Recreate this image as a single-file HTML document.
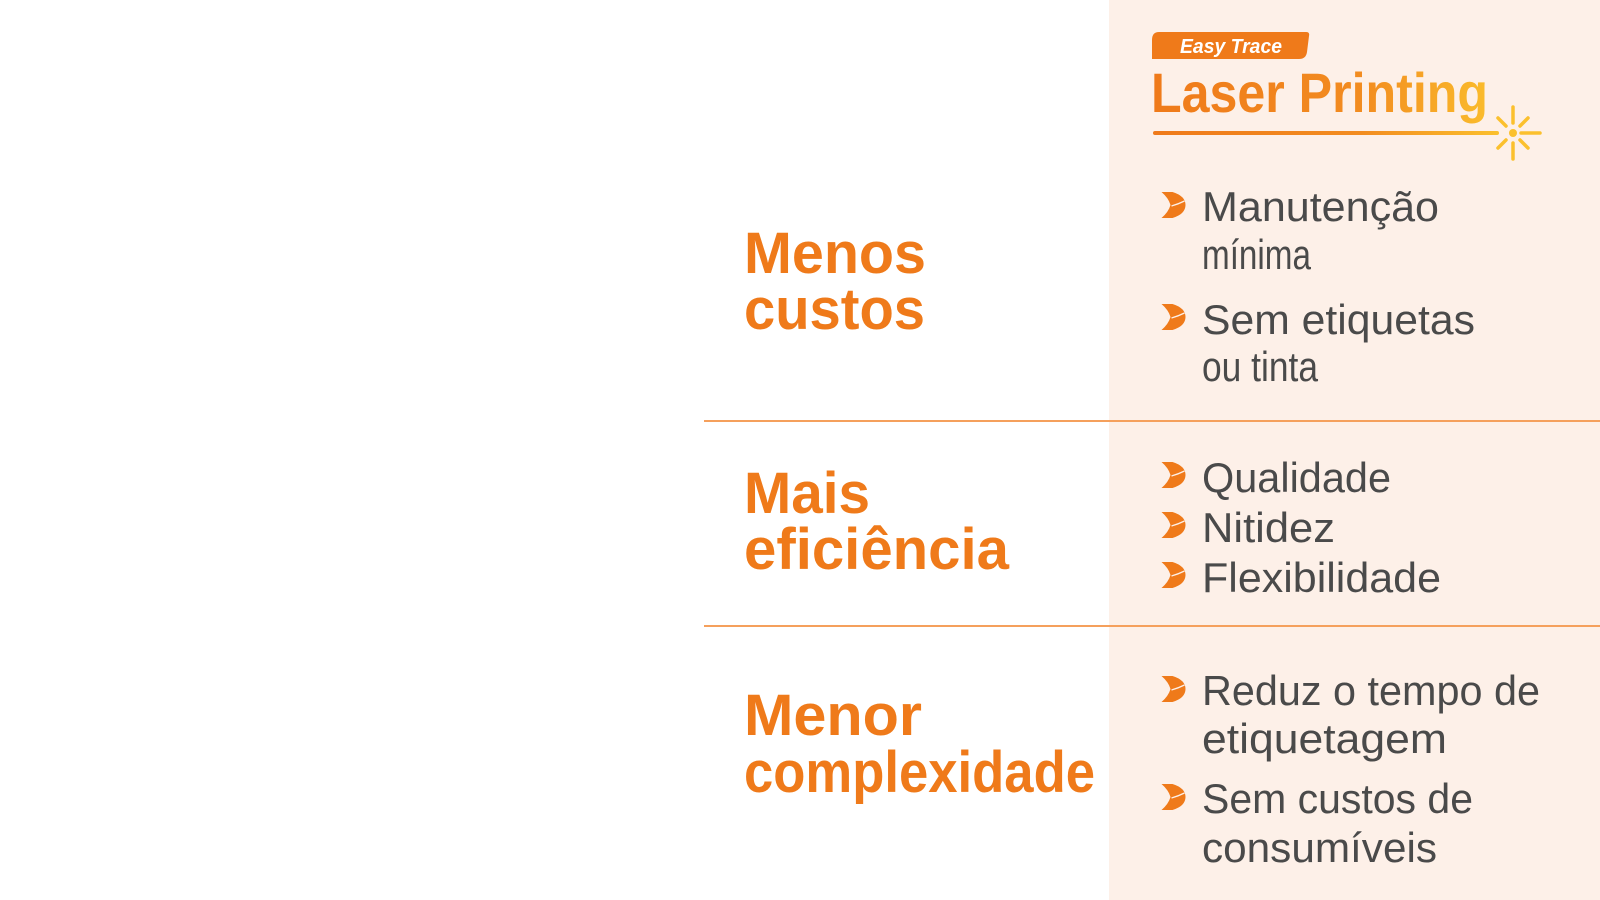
<!DOCTYPE html>
<html><head><meta charset="utf-8"><style>
html,body{margin:0;padding:0;background:#fff;}
svg{display:block}
</style></head><body>
<svg width="1600" height="900" viewBox="0 0 1600 900" xmlns="http://www.w3.org/2000/svg">
<defs>
<linearGradient id="g2" x1="1152" y1="0" x2="1500" y2="0" gradientUnits="userSpaceOnUse">
<stop offset="0" stop-color="#EF7A1A"/><stop offset="0.6" stop-color="#F28C20"/><stop offset="1" stop-color="#FBC02D"/></linearGradient>
<symbol id="b" viewBox="0 0 24 26"><path d="M0,0 H11 Q24,4 24,13 Q24,22 11,26 H0 Q7,20 9,13 Q7,6 0,0 Z" fill="#EF7A1A"/><path d="M10,14 Q17,12 23,9" stroke="#FDF0E8" stroke-width="1.3" fill="none"/></symbol>
</defs>
<rect x="1109" y="0" width="491" height="900" fill="#FDF0E8"/>
<line x1="704" y1="421" x2="1600" y2="421" stroke="#F5A05C" stroke-width="2"/>
<line x1="704" y1="626" x2="1600" y2="626" stroke="#F5A05C" stroke-width="2"/>
<g font-family="Liberation Sans, sans-serif" font-weight="bold" font-size="58" fill="#EF7A1A">
<text x="744" y="273" textLength="182" lengthAdjust="spacingAndGlyphs">Menos</text>
<text x="744" y="329" textLength="181" lengthAdjust="spacingAndGlyphs">custos</text>
<text x="744" y="513" textLength="126" lengthAdjust="spacingAndGlyphs">Mais</text>
<text x="744" y="569" textLength="265" lengthAdjust="spacingAndGlyphs">eficiência</text>
<text x="744" y="735" textLength="178" lengthAdjust="spacingAndGlyphs">Menor</text>
<text x="744" y="792" textLength="351" lengthAdjust="spacingAndGlyphs">complexidade</text>
</g>
<path d="M1159,32 H1306 Q1310,32 1309,36 L1307,52 Q1306,59 1299,59 H1152 V40 Q1152,32 1159,32 Z" fill="#EF7A1A"/>
<text x="1180" y="53" font-family="Liberation Sans, sans-serif" font-weight="bold" font-style="italic" font-size="20" fill="#fff" textLength="102" lengthAdjust="spacingAndGlyphs">Easy Trace</text>
<text x="1151" y="112" font-family="Liberation Sans, sans-serif" font-weight="bold" font-size="56" fill="url(#g2)" textLength="337" lengthAdjust="spacingAndGlyphs">Laser Printing</text>
<line x1="1155" y1="133" x2="1497" y2="133" stroke="url(#g2)" stroke-width="4" stroke-linecap="round"/>
<g stroke="#FBC02D" stroke-width="3.5" stroke-linecap="round">
<line x1="1513" y1="107" x2="1513" y2="123"/><line x1="1513" y1="143" x2="1513" y2="159"/>
<line x1="1521" y1="133" x2="1540" y2="133"/>
<line x1="1498" y1="118" x2="1506" y2="126"/><line x1="1528" y1="118" x2="1520" y2="126"/>
<line x1="1498" y1="148" x2="1506" y2="140"/><line x1="1528" y1="148" x2="1520" y2="140"/>
</g>
<circle cx="1513" cy="133" r="4" fill="#FBC02D"/>
<g font-family="Liberation Sans, sans-serif" font-size="42" fill="#4A4A4A">
<text x="1202" y="221" textLength="237" lengthAdjust="spacingAndGlyphs">Manutenção</text>
<text x="1202" y="269" textLength="109" lengthAdjust="spacingAndGlyphs">mínima</text>
<text x="1202" y="334" textLength="273" lengthAdjust="spacingAndGlyphs">Sem etiquetas</text>
<text x="1202" y="381" textLength="116" lengthAdjust="spacingAndGlyphs">ou tinta</text>
<text x="1202" y="492" textLength="189" lengthAdjust="spacingAndGlyphs">Qualidade</text>
<text x="1202" y="542" textLength="133" lengthAdjust="spacingAndGlyphs">Nitidez</text>
<text x="1202" y="592" textLength="239" lengthAdjust="spacingAndGlyphs">Flexibilidade</text>
<text x="1202" y="705" textLength="338" lengthAdjust="spacingAndGlyphs">Reduz o tempo de</text>
<text x="1202" y="753" textLength="245" lengthAdjust="spacingAndGlyphs">etiquetagem</text>
<text x="1202" y="813" textLength="271" lengthAdjust="spacingAndGlyphs">Sem custos de</text>
<text x="1202" y="862" textLength="235" lengthAdjust="spacingAndGlyphs">consumíveis</text>
</g>
<use href="#b" x="1161" y="192" width="25" height="26"/>
<use href="#b" x="1161" y="304" width="25" height="26"/>
<use href="#b" x="1161" y="462" width="25" height="26"/>
<use href="#b" x="1161" y="512" width="25" height="26"/>
<use href="#b" x="1161" y="562" width="25" height="26"/>
<use href="#b" x="1161" y="676" width="25" height="26"/>
<use href="#b" x="1161" y="784" width="25" height="26"/>
</svg>
</body></html>
